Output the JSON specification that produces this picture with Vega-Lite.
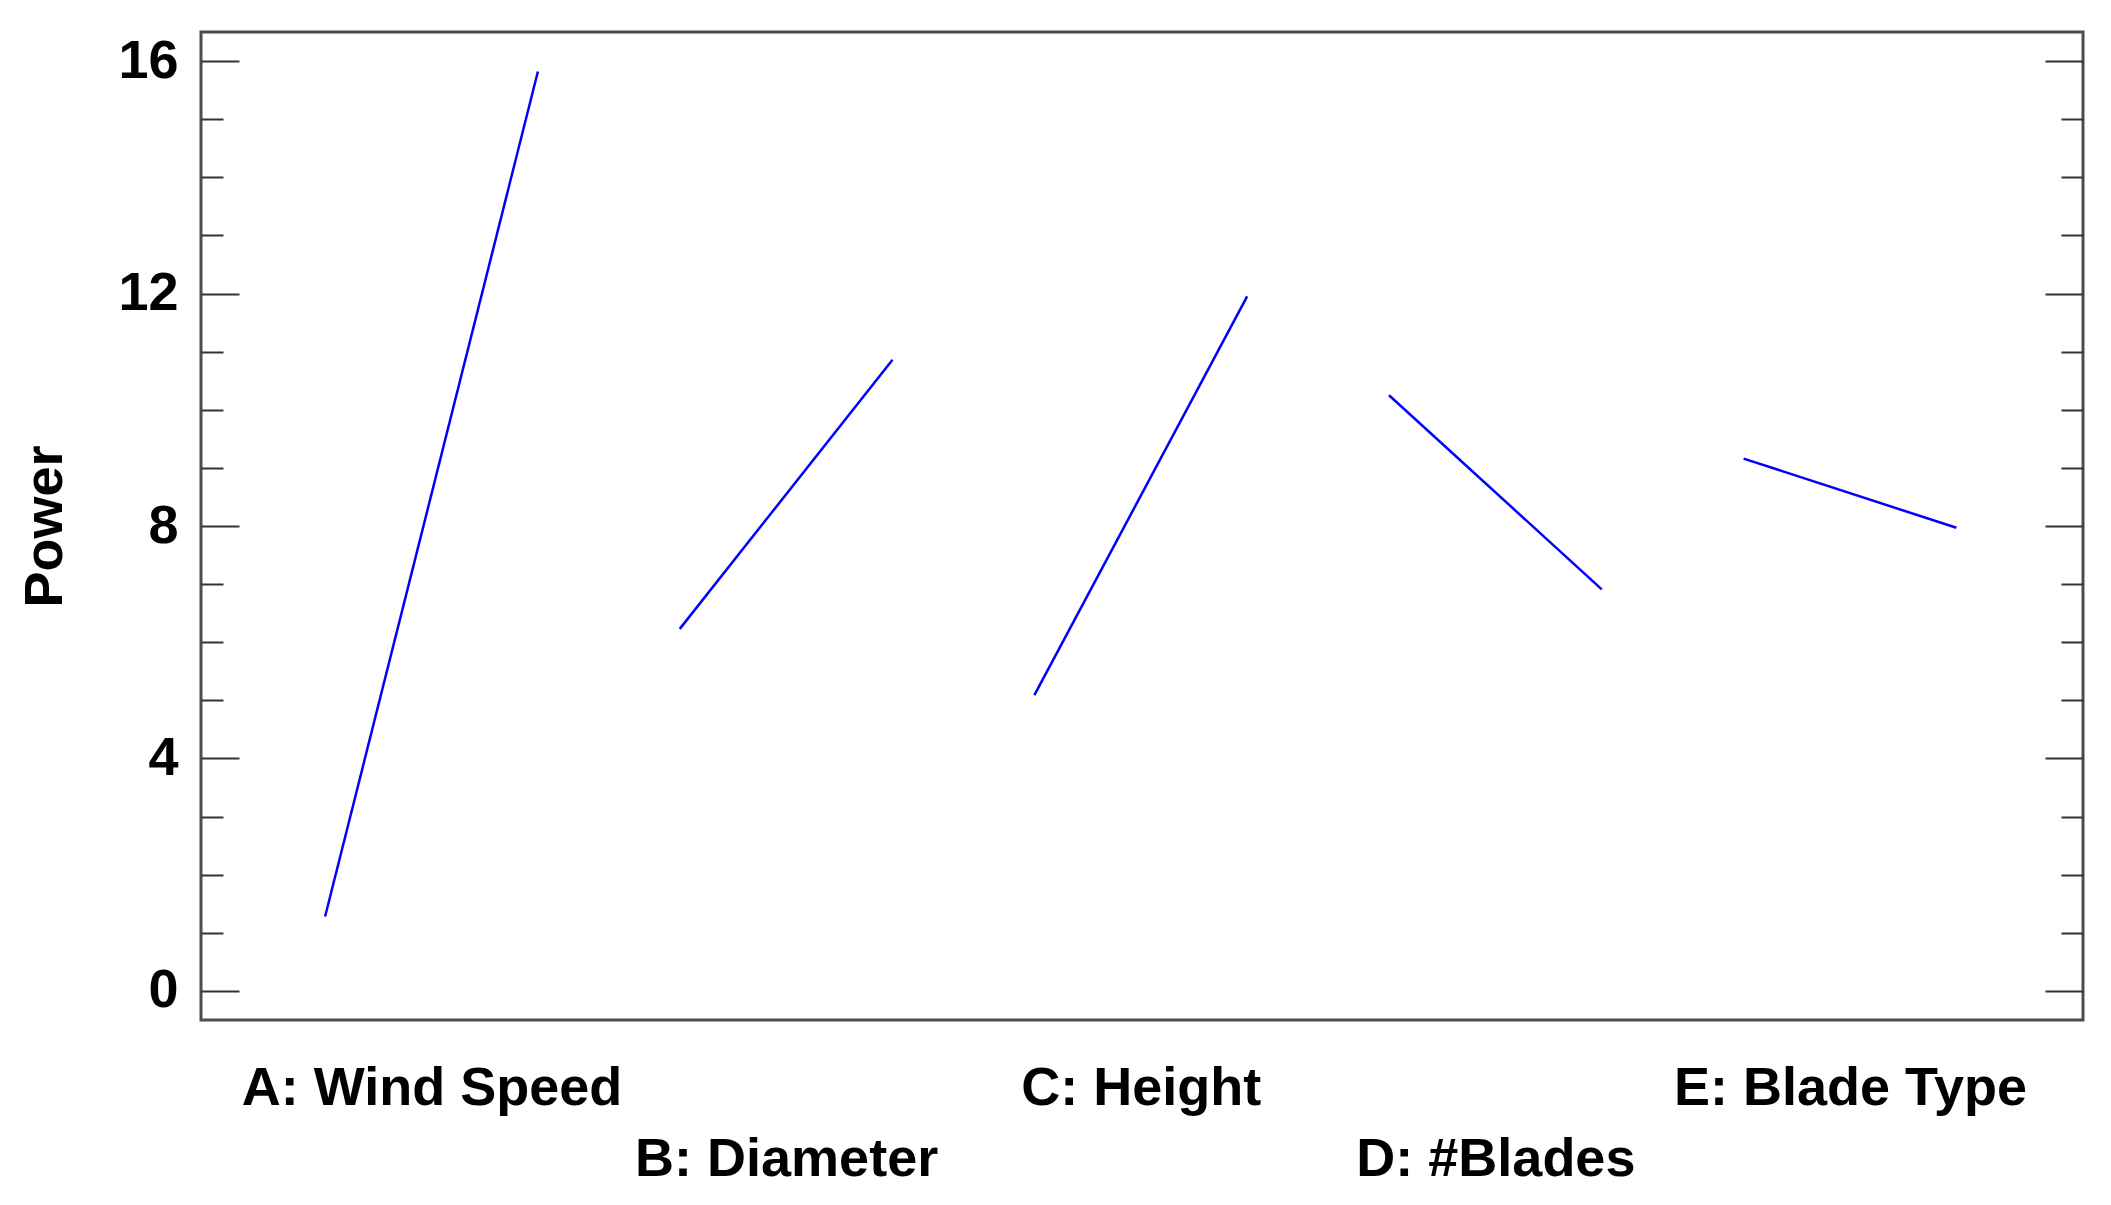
{
  "$schema": "https://vega.github.io/schema/vega-lite/v6.json",
  "width": 1882,
  "height": 988,
  "autosize": {"type": "none"},
  "padding": {"left": 201, "top": 32, "right": 28, "bottom": 185},
  "background": "white",
  "config": {
    "view": {"stroke": "#4d4d4d", "strokeWidth": 3},
    "font": "Liberation Sans"
  },
  "data": {
    "values": [
      {"factor": "A: Wind Speed", "x": 0, "power": 1.28},
      {"factor": "A: Wind Speed", "x": 6, "power": 15.82},
      {"factor": "B: Diameter", "x": 10, "power": 6.23},
      {"factor": "B: Diameter", "x": 16, "power": 10.86},
      {"factor": "C: Height", "x": 20, "power": 5.09},
      {"factor": "C: Height", "x": 26, "power": 11.95},
      {"factor": "D: #Blades", "x": 30, "power": 10.25},
      {"factor": "D: #Blades", "x": 36, "power": 6.91},
      {"factor": "E: Blade Type", "x": 40, "power": 9.16},
      {"factor": "E: Blade Type", "x": 46, "power": 7.97}
    ]
  },
  "encoding": {
    "x": {
      "field": "x",
      "type": "quantitative",
      "scale": {"domain": [-3.5, 49.57], "nice": false, "zero": false},
      "axis": {
        "title": null,
        "values": [3, 13, 23, 33, 43],
        "labelExpr": "datum.value == 3 ? 'A: Wind Speed' : datum.value == 13 ? 'B: Diameter' : datum.value == 23 ? 'C: Height' : datum.value == 33 ? 'D: #Blades' : 'E: Blade Type'",
        "domain": false,
        "ticks": false,
        "grid": false,
        "labelFont": "Liberation Sans",
        "labelFontSize": 54,
        "labelFontWeight": "bold",
        "labelColor": "black",
        "labelBaseline": "alphabetic",
        "labelPadding": {"condition": {"test": "datum.value == 13 || datum.value == 33", "value": 155}, "value": 84},
        "labelLimit": 0,
        "labelOverlap": false,
        "labelFlush": false,
        "labelBound": false
      }
    },
    "detail": {"field": "factor"}
  },
  "layer": [
    {
      "mark": {"type": "line", "color": "#0000ff", "strokeWidth": 2.5},
      "encoding": {
        "y": {
          "field": "power",
          "type": "quantitative",
          "scale": {"domain": [-0.5, 16.5], "nice": false, "zero": false},
          "axis": {
            "orient": "left",
            "title": "Power",
            "titleFont": "Liberation Sans",
            "titleFontSize": 54,
            "titleFontWeight": "bold",
            "titleColor": "black",
            "titleAngle": -90,
            "titleBaseline": "alphabetic",
            "titleAlign": "center",
            "titleX": -140,
            "titleY": 494,
            "values": [0, 1, 2, 3, 4, 5, 6, 7, 8, 9, 10, 11, 12, 13, 14, 15, 16],
            "labelExpr": "datum.value % 4 == 0 ? datum.label : ''",
            "tickSize": {"condition": {"test": "datum.value % 4 == 0", "value": -38}, "value": -22},
            "tickColor": "#333333",
            "tickWidth": 2,
            "domain": false,
            "grid": false,
            "labelFont": "Liberation Sans",
            "labelFontSize": 54,
            "labelFontWeight": "bold",
            "labelColor": "black",
            "labelPadding": 61,
            "labelLimit": 0,
            "labelOverlap": false,
            "labelFlush": false,
            "labelBound": false
          }
        }
      }
    },
    {
      "mark": {"type": "line", "opacity": 0},
      "encoding": {
        "y": {
          "field": "power",
          "type": "quantitative",
          "scale": {"domain": [-0.5, 16.5], "nice": false, "zero": false},
          "axis": {
            "orient": "right",
            "title": null,
            "values": [0, 1, 2, 3, 4, 5, 6, 7, 8, 9, 10, 11, 12, 13, 14, 15, 16],
            "labels": false,
            "tickSize": {"condition": {"test": "datum.value % 4 == 0", "value": -38}, "value": -22},
            "tickColor": "#333333",
            "tickWidth": 2,
            "domain": false,
            "grid": false
          }
        }
      }
    }
  ],
  "resolve": {"axis": {"y": "independent"}}
}
